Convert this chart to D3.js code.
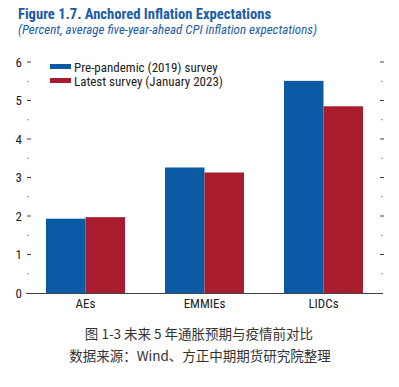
<!DOCTYPE html>
<html>
<head>
<meta charset="utf-8">
<script src="https://cdn.jsdelivr.net/npm/d3@7"></script>
<style>
  body { margin: 0; background: #fff; }
  svg { display: block; }
</style>
</head>
<body>
<svg id="chart" width="399" height="387"></svg>
<script>
// data
const categories = ['AEs', 'EMMIEs', 'LIDCs'];
const seriesNames = ['Pre-pandemic (2019) survey', 'Latest survey (January 2023)'];
const prePandemic = [1.93, 3.26, 5.51];
const latestSurvey = [1.97, 3.13, 4.85];
const yTicks = [0, 1, 2, 3, 4, 5, 6];
const yMinorTicks = [0.5, 1.5, 2.5, 3.5, 4.5, 5.5];

const colors = ['#0a5aa6', '#a81c2e'];
const narrow = '"Liberation Sans Narrow", "Roboto Condensed", "DejaVu Sans Condensed", sans-serif';

const svg = d3.select('#chart');

const margin = { top: 62, right: 16, bottom: 94, left: 26 };
const width = 399 - margin.left - margin.right;
const height = 387 - margin.top - margin.bottom;
const g = svg.append('g').attr('transform', 'translate(' + margin.left + ',' + margin.top + ')');

const x0 = d3.scaleBand().domain(categories).range([0, width]).paddingInner(0).paddingOuter(0);
const x1 = d3.scaleBand().domain([0, 1]).range([0, 79]);
const y = d3.scaleLinear().domain([0, 6]).range([height, 0]);

// title
svg.append('text')
  .attr('x', 18).attr('y', 19)
  .attr('font-family', narrow).attr('font-weight', 'bold')
  .attr('font-size', 14.6).attr('fill', '#1a5ca8')
  .text('Figure 1.7. Anchored Inflation Expectations');
svg.append('text')
  .attr('x', 18).attr('y', 34)
  .attr('font-family', narrow).attr('font-style', 'italic')
  .attr('font-size', 13).attr('fill', '#1a5ca8')
  .text('(Percent, average five-year-ahead CPI inflation expectations)');

// left axis: labels + dash ticks
const left = g.append('g');
left.selectAll('text')
  .data(yTicks)
  .enter()
  .append('text')
  .attr('x', -4)
  .attr('y', d => y(d))
  .attr('dy', '0.35em')
  .attr('text-anchor', 'end')
  .attr('font-family', narrow).attr('font-size', 13).attr('fill', '#222')
  .text(d => d);
left.selectAll('line.major')
  .data(yTicks.filter(d => d > 0))
  .enter()
  .append('line')
  .attr('class', 'major')
  .attr('x1', 1).attr('x2', 5)
  .attr('y1', d => y(d)).attr('y2', d => y(d))
  .attr('stroke', '#444').attr('stroke-width', 1);
left.selectAll('line.minor')
  .data(yMinorTicks)
  .enter()
  .append('line')
  .attr('class', 'minor')
  .attr('x1', 1).attr('x2', 2.5)
  .attr('y1', d => y(d)).attr('y2', d => y(d))
  .attr('stroke', '#777').attr('stroke-width', 1);

// right axis ticks, no labels
const right = g.append('g').attr('transform', 'translate(' + width + ',0)');
right.selectAll('line.major')
  .data(yTicks.filter(d => d > 0))
  .enter()
  .append('line')
  .attr('class', 'major')
  .attr('x1', -3).attr('x2', 1)
  .attr('y1', d => y(d)).attr('y2', d => y(d))
  .attr('stroke', '#444').attr('stroke-width', 1);
right.selectAll('line.minor')
  .data(yMinorTicks)
  .enter()
  .append('line')
  .attr('class', 'minor')
  .attr('x1', -2).attr('x2', -0.5)
  .attr('y1', d => y(d)).attr('y2', d => y(d))
  .attr('stroke', '#777').attr('stroke-width', 1);

// bars
const rows = categories.map((c, i) => ({ cat: c, vals: [prePandemic[i], latestSurvey[i]] }));
const groups = g.selectAll('g.group')
  .data(rows)
  .enter()
  .append('g')
  .attr('class', 'group')
  .attr('transform', d => 'translate(' + (x0(d.cat) + x0.bandwidth() / 2 - 39.5) + ',0)');
groups.selectAll('rect')
  .data(d => d.vals)
  .enter()
  .append('rect')
  .attr('x', (d, i) => x1(i))
  .attr('y', d => y(d))
  .attr('width', x1.bandwidth())
  .attr('height', d => height - y(d))
  .attr('fill', (d, i) => colors[i]);

// baseline
g.append('line')
  .attr('x1', 0).attr('x2', width)
  .attr('y1', height + 0.5).attr('y2', height + 0.5)
  .attr('stroke', '#444').attr('stroke-width', 1.2);

// category labels
g.selectAll('text.cat')
  .data(categories)
  .enter()
  .append('text')
  .attr('class', 'cat')
  .attr('x', d => x0(d) + x0.bandwidth() / 2)
  .attr('y', height + 15)
  .attr('text-anchor', 'middle')
  .attr('font-family', narrow).attr('font-size', 13).attr('fill', '#222')
  .text(d => d);

// legend
const legend = svg.append('g').attr('transform', 'translate(50,64)');
const items = legend.selectAll('g')
  .data(seriesNames)
  .enter()
  .append('g')
  .attr('transform', (d, i) => 'translate(0,' + i * 14 + ')');
items.append('rect')
  .attr('width', 21).attr('height', 5)
  .attr('fill', (d, i) => colors[i]);
items.append('text')
  .attr('x', 24).attr('y', 7.5)
  .attr('font-family', narrow).attr('font-size', 13).attr('fill', '#222')
  .text(d => d);

// caption
const cjk = '"Noto Sans CJK SC", sans-serif';
svg.append('text')
  .attr('x', 199).attr('y', 339)
  .attr('text-anchor', 'middle')
  .attr('font-family', cjk).attr('font-size', 13.5).attr('fill', '#333')
  .text('图 1-3 未来 5 年通胀预期与疫情前对比');
svg.append('text')
  .attr('x', 200).attr('y', 361)
  .attr('text-anchor', 'middle')
  .attr('font-family', cjk).attr('font-size', 13.5).attr('fill', '#333')
  .text('数据来源：Wind、方正中期期货研究院整理');
</script>
</body>
</html>
